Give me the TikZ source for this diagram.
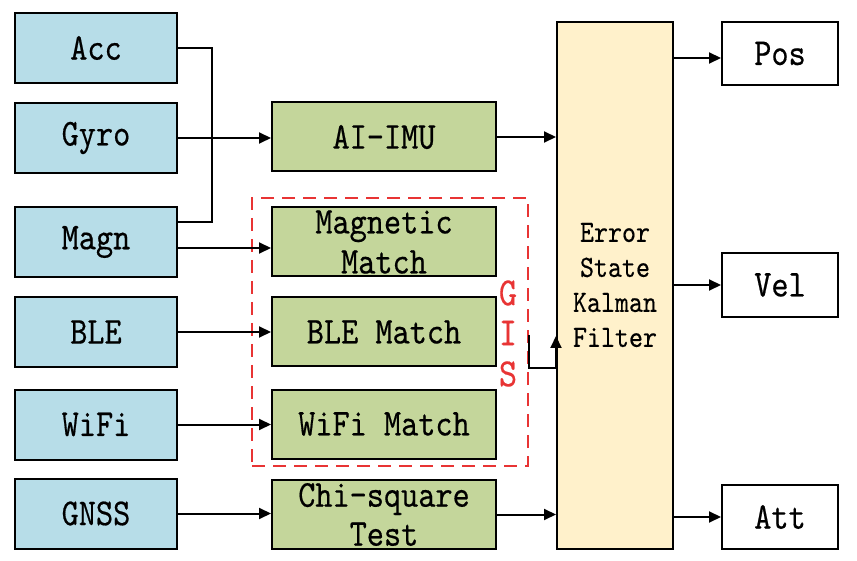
\documentclass[tikz,border=0pt]{standalone}
\usepackage{fontspec}
\newfontfamily\dfont[FakeStretch=0.86,FakeBold=0.4]{lmmono10-regular.otf}
\usetikzlibrary{arrows.meta}
\definecolor{bluefill}{RGB}{183,221,232}
\definecolor{greenfill}{RGB}{196,214,155}
\definecolor{beigefill}{RGB}{255,241,203}
\definecolor{gisred}{RGB}{232,52,52}
\begin{document}
\begin{tikzpicture}[x=1pt,y=-1pt,
  box/.style={draw=black, line width=2pt, inner sep=0pt, font=\dfont\fontsize{38}{40}\selectfont},
  inbox/.style={box, fill=bluefill, minimum width=162pt, minimum height=70pt},
  gbox/.style={box, fill=greenfill, minimum width=224pt, minimum height=69pt},
  obox/.style={box, fill=white, minimum width=116pt, minimum height=64pt},
  lbl/.style={inner sep=0pt, align=center, font=\dfont\fontsize{38}{40}\selectfont},
  ekftxt/.style={inner sep=0pt, align=center, font=\dfont\fontsize{31}{35}\selectfont},
  gistxt/.style={inner sep=0pt, text=gisred, font=\dfont\fontsize{40}{40}\selectfont},
  ln/.style={line width=2pt},
  arr/.style={line width=2pt, -{Triangle[length=12pt,width=11pt]}}]
\useasboundingbox (0,0) rectangle (857,561);
% left inputs
\node[inbox] (acc)  at (96,48)    {Acc};
\node[inbox] (gyro) at (96,138)   {Gyro};
\node[inbox] (magn) at (96,242)   {Magn};
\node[inbox] (ble)  at (96,332)   {BLE};
\node[inbox] (wifi) at (96,424.5) {WiFi};
\node[inbox] (gnss) at (96,513.5) {GNSS};
% GIS dashed frame
\node[draw=gisred, line width=2.2pt, dash pattern=on 13pt off 8pt, minimum width=276pt, minimum height=268pt, inner sep=0pt] (gis) at (390,332) {};
% middle blocks
\node[gbox] (imu) at (384,137) {AI-IMU};
\node[gbox] (mm)  at (384,242) {};
\node[lbl]  (mmt) at (mm) {Magnetic\\Match};
\node[gbox] (bm)  at (384,332) {BLE Match};
\node[gbox] (wm)  at (384,424) {WiFi Match};
\node[gbox] (chi) at (384,514.5) {};
\node[lbl]  (chit) at (chi) {Chi-square\\[-1pt]Test};
% GIS letters
\node[gistxt] (g1) at (508,293) {G};
\node[gistxt] (g2) at (508,333) {I};
\node[gistxt] (g3) at (508,374) {S};
% EKF
\node[box, fill=beigefill, minimum width=116pt, minimum height=527pt] (ekf) at (615,285.5) {};
\node[ekftxt] (ekft) at (615,285) {Error\\State\\Kalman\\Filter};
% outputs
\node[obox, minimum height=63pt] (pos) at (780,53.5) {Pos};
\node[obox] (vel) at (780,285) {Vel};
\node[obox] (att) at (780,517) {Att};
% connectors
\draw[ln] (acc.east) -- ++(34,0) |- ([yshift=20pt]magn.east);
\draw[arr] (gyro.east) -- (gyro.east -| imu.west);
\draw[arr] ([yshift=-6pt]magn.east) -- ([yshift=-6pt]magn.east -| mm.west);
\draw[arr] (ble.east) -- (ble.east -| bm.west);
\draw[arr] (wifi.east) -- (wifi.east -| wm.west);
\draw[arr] (gnss.east) -- (gnss.east -| chi.west);
\draw[arr] (imu.east) -- (imu.east -| ekf.west);
\draw[arr] (chi.east) -- (chi.east -| ekf.west);
\draw[arr] ([yshift=-3pt]gis.east) -- ([yshift=-36pt]gis.east) -| ([yshift=-4pt]gis.east -| ekf.west);
\draw[arr] ([yshift=-4.5pt]pos.west -| ekf.east) -- ([yshift=-4.5pt]pos.west);
\draw[arr] (vel.west -| ekf.east) -- (vel.west);
\draw[arr] (att.west -| ekf.east) -- (att.west);
\end{tikzpicture}
\end{document}
